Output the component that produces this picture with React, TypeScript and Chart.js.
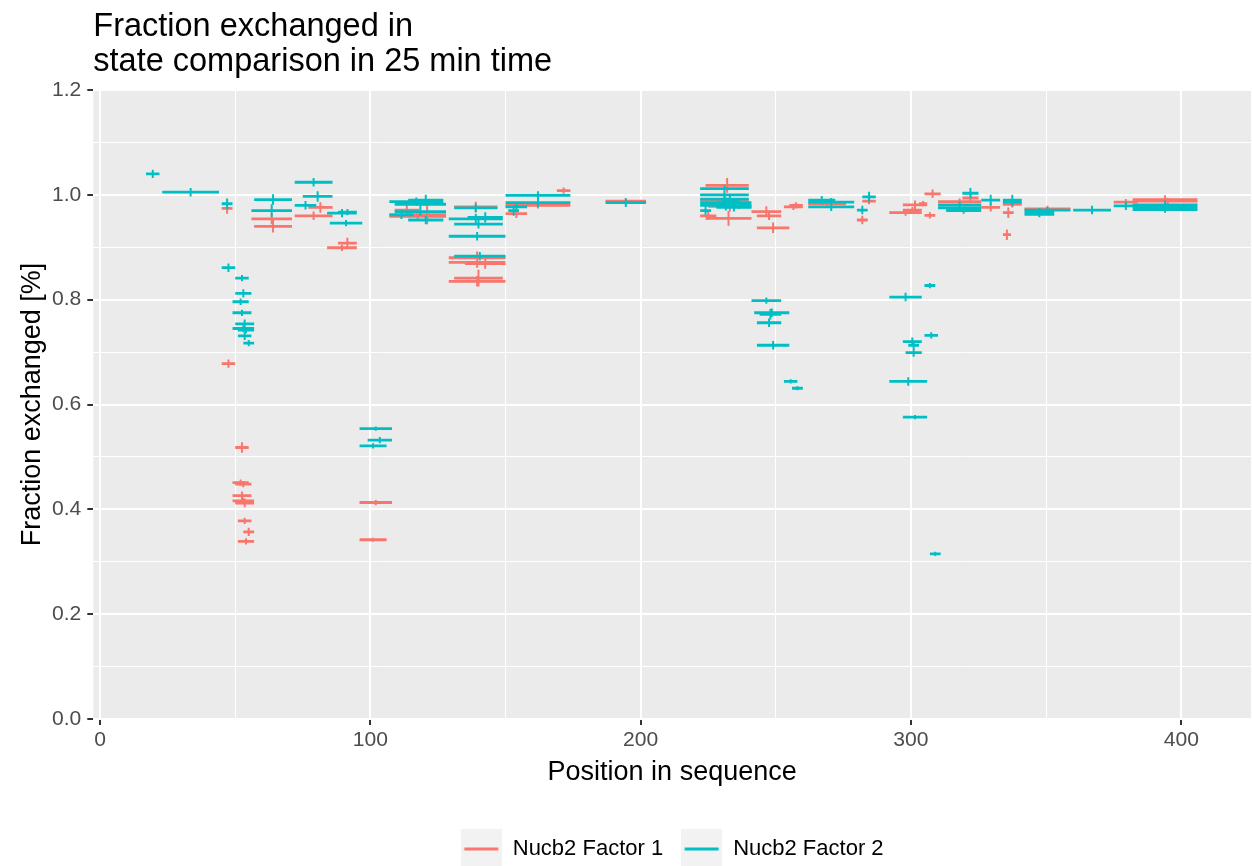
import React, { useEffect, useRef } from "react";
import { Chart, registerables } from "chart.js";

Chart.register(...registerables);

const FONT = "'Liberation Sans', Arial, Helvetica, sans-serif";

const titleLines = ["Fraction exchanged in", "state comparison in 25 min time"];
const xTitle = "Position in sequence";
const yTitle = "Fraction exchanged [%]";
const seriesNames = ["Nucb2 Factor 1", "Nucb2 Factor 2"];
const seriesColors = ["#F8766D", "#00BFC4"];

// Nucb2 Factor 1 peptides
const f1Start = [45, 56, 57, 77, 72, 88, 84, 45, 50, 49, 50, 49, 49, 50, 51, 53, 51, 96, 96, 109, 107, 114, 131, 129, 129, 135, 131, 129, 169, 150, 150, 187, 224, 222, 225, 228, 222, 224, 241, 243, 243, 253, 255, 262, 282, 280, 292, 297, 297, 305, 305, 303, 310, 319, 326, 334, 334, 334, 342, 375, 382, 384];
const f1End = [49, 71, 71, 86, 86, 95, 95, 50, 55, 55, 56, 56, 57, 57, 56, 57, 57, 108, 106, 118, 128, 128, 147, 150, 150, 150, 149, 150, 174, 174, 158, 202, 240, 240, 241, 234, 228, 241, 252, 252, 255, 260, 260, 276, 287, 284, 304, 304, 306, 311, 309, 306, 326, 325, 333, 341, 338, 337, 359, 384, 406, 406];
const f1Value = [0.974, 0.954, 0.94, 0.976, 0.96, 0.908, 0.899, 0.678, 0.518, 0.451, 0.448, 0.426, 0.416, 0.412, 0.378, 0.357, 0.339, 0.413, 0.342, 0.971, 0.959, 0.962, 0.977, 0.88, 0.871, 0.869, 0.841, 0.835, 1.008, 0.98, 0.964, 0.988, 1.018, 0.99, 0.978, 0.985, 0.96, 0.955, 0.968, 0.96, 0.937, 0.977, 0.98, 0.983, 0.988, 0.952, 0.966, 0.971, 0.981, 1.002, 0.961, 0.983, 0.987, 0.994, 0.976, 0.982, 0.966, 0.924, 0.973, 0.986, 0.991, 0.988];
const f1Err = [0.01, 0.01, 0.012, 0.01, 0.008, 0.01, 0.006, 0.008, 0.01, 0.006, 0.006, 0.008, 0.006, 0.008, 0.006, 0.008, 0.006, 0.005, 0.004, 0.01, 0.008, 0.018, 0.01, 0.012, 0.01, 0.01, 0.016, 0.01, 0.006, 0.006, 0.008, 0.006, 0.014, 0.01, 0.01, 0.01, 0.008, 0.014, 0.01, 0.008, 0.01, 0.006, 0.006, 0.008, 0.006, 0.008, 0.006, 0.006, 0.008, 0.008, 0.006, 0.005, 0.006, 0.006, 0.008, 0.006, 0.01, 0.01, 0.006, 0.006, 0.008, 0.006];

// Nucb2 Factor 2 peptides
const f2Start = [17, 23, 45, 57, 56, 72, 75, 72, 84, 88, 85, 45, 50, 50, 49, 49, 50, 49, 51, 51, 53, 96, 99, 96, 107, 114, 109, 109, 107, 114, 131, 129, 131, 129, 131, 136, 150, 150, 150, 151, 187, 222, 222, 222, 222, 222, 228, 222, 230, 233, 241, 242, 244, 243, 243, 253, 256, 262, 262, 262, 282, 280, 292, 305, 305, 297, 299, 298, 292, 297, 307, 310, 310, 313, 319, 326, 334, 334, 342, 342, 342, 360, 375, 382, 382, 382];
const f2End = [22, 44, 49, 71, 71, 86, 86, 80, 95, 95, 97, 50, 55, 56, 55, 56, 57, 57, 57, 56, 57, 108, 108, 106, 127, 127, 128, 128, 116, 127, 147, 149, 149, 150, 150, 149, 174, 174, 158, 155, 202, 240, 240, 240, 241, 241, 241, 226, 236, 240, 252, 255, 252, 252, 255, 258, 260, 279, 279, 272, 287, 284, 304, 309, 310, 304, 303, 304, 306, 306, 311, 326, 326, 326, 325, 333, 341, 341, 359, 353, 353, 374, 384, 406, 406, 406];
const f2Value = [1.04, 1.005, 0.983, 0.991, 0.97, 1.024, 0.997, 0.98, 0.965, 0.967, 0.946, 0.861, 0.841, 0.812, 0.796, 0.775, 0.754, 0.745, 0.742, 0.731, 0.717, 0.554, 0.532, 0.521, 0.987, 0.99, 0.982, 0.968, 0.962, 0.952, 0.975, 0.954, 0.944, 0.921, 0.883, 0.957, 0.999, 0.985, 0.977, 0.97, 0.985, 1.012, 1.0, 0.992, 0.985, 0.98, 0.976, 0.97, 0.988, 0.983, 0.798, 0.775, 0.772, 0.756, 0.713, 0.644, 0.631, 0.986, 0.977, 0.99, 0.996, 0.971, 0.805, 0.827, 0.732, 0.72, 0.713, 0.699, 0.644, 0.576, 0.315, 0.981, 0.975, 0.97, 1.003, 0.99, 0.99, 0.986, 0.971, 0.967, 0.963, 0.971, 0.979, 0.981, 0.977, 0.972];
const f2Err = [0.008, 0.008, 0.01, 0.01, 0.012, 0.008, 0.01, 0.008, 0.008, 0.006, 0.006, 0.008, 0.006, 0.008, 0.006, 0.006, 0.008, 0.006, 0.006, 0.008, 0.006, 0.004, 0.006, 0.005, 0.008, 0.01, 0.008, 0.008, 0.008, 0.008, 0.008, 0.01, 0.008, 0.008, 0.008, 0.01, 0.008, 0.008, 0.008, 0.01, 0.008, 0.006, 0.008, 0.008, 0.01, 0.01, 0.008, 0.008, 0.012, 0.01, 0.006, 0.008, 0.01, 0.008, 0.008, 0.004, 0.004, 0.008, 0.008, 0.008, 0.01, 0.008, 0.008, 0.005, 0.006, 0.008, 0.006, 0.008, 0.008, 0.004, 0.004, 0.006, 0.006, 0.006, 0.01, 0.01, 0.01, 0.008, 0.006, 0.008, 0.006, 0.008, 0.008, 0.008, 0.01, 0.006];

const xMin = -2.5;
const xMax = 425.8;
const xStep = 50;
const xLabelEvery = 100;
const yMin = 0;
const yMax = 1.2;
const yStep = 0.1;

type Pt = { x: number; y: number | null };

function segments(starts: number[], ends: number[], values: number[]): Pt[] {
  const out: Pt[] = [];
  for (let i = 0; i < starts.length; i++) {
    out.push({ x: starts[i], y: values[i] });
    out.push({ x: ends[i], y: values[i] });
    out.push({ x: ends[i], y: null });
  }
  return out;
}

function errorBars(starts: number[], ends: number[], values: number[], errs: number[]): Pt[] {
  const out: Pt[] = [];
  for (let i = 0; i < starts.length; i++) {
    const mid = (starts[i] + ends[i]) / 2;
    out.push({ x: mid, y: values[i] - errs[i] });
    out.push({ x: mid, y: values[i] + errs[i] });
    out.push({ x: mid, y: null });
  }
  return out;
}

// legend key: grey square with a short coloured line, as ggplot draws it
function legendKey(color: string): HTMLCanvasElement {
  const c = document.createElement("canvas");
  c.width = 41;
  c.height = 41;
  const g = c.getContext("2d");
  if (g) {
    g.fillStyle = "#F2F2F2";
    g.fillRect(0, 0, 41, 41);
    g.strokeStyle = color;
    g.lineWidth = 3;
    g.beginPath();
    g.moveTo(3.5, 20.5);
    g.lineTo(37.5, 20.5);
    g.stroke();
  }
  return c;
}

const panelPlugin = {
  id: "panelBg",
  beforeDraw(chart: any) {
    const { ctx, chartArea } = chart;
    ctx.save();
    ctx.fillStyle = "#EBEBEB";
    ctx.fillRect(chartArea.left, chartArea.top, chartArea.right - chartArea.left, chartArea.bottom - chartArea.top);
    ctx.restore();
  },
};

export default function App() {
  const ref = useRef<HTMLCanvasElement | null>(null);

  useEffect(() => {
    document.body.style.margin = "0";
    const canvas = ref.current;
    if (!canvas) return;
    const common = {
      pointRadius: 0,
      pointHoverRadius: 0,
      spanGaps: false,
      tension: 0,
      fill: false,
      borderCapStyle: "butt" as const,
    };
    const chart = new Chart(canvas, {
      type: "line",
      data: {
        datasets: [
          { ...common, label: seriesNames[0], data: segments(f1Start, f1End, f1Value), borderColor: seriesColors[0], backgroundColor: seriesColors[0], borderWidth: 2.8, pointStyle: legendKey(seriesColors[0]), order: 4 },
          { ...common, label: seriesNames[1], data: segments(f2Start, f2End, f2Value), borderColor: seriesColors[1], backgroundColor: seriesColors[1], borderWidth: 2.8, pointStyle: legendKey(seriesColors[1]), order: 2 },
          { ...common, label: "err1", data: errorBars(f1Start, f1End, f1Value, f1Err), borderColor: seriesColors[0], borderWidth: 2, order: 3 },
          { ...common, label: "err2", data: errorBars(f2Start, f2End, f2Value, f2Err), borderColor: seriesColors[1], borderWidth: 2, order: 1 },
        ] as any,
      },
      options: {
        responsive: false,
        animation: false,
        devicePixelRatio: 1,
        layout: { padding: { left: 0, right: 1, top: 0, bottom: 0 } },
        plugins: {
          tooltip: { enabled: false },
          title: {
            display: true,
            text: titleLines,
            align: "start",
            fullSize: false,
            color: "#000000",
            font: { family: FONT, size: 32.5, weight: "normal", lineHeight: 1.08 },
            padding: { top: 9, bottom: 10.8 },
          },
          legend: {
            display: true,
            position: "bottom",
            align: "center",
            fullSize: false,
            labels: {
              usePointStyle: true,
              pointStyleWidth: 41,
              color: "#000000",
              font: { family: FONT, size: 22 },
              padding: 18,
              filter: (item: any) => item.datasetIndex < 2,
              sort: (a: any, b: any) => a.datasetIndex - b.datasetIndex,
            },
          },
        },
        scales: {
          x: {
            type: "linear",
            min: xMin,
            max: xMax,
            afterFit: (scale: any) => {
              scale.height = 101;
            },
            border: { display: false },
            grid: {
              color: "#FFFFFF",
              lineWidth: (c: any) => (c.tick && Math.round(c.tick.value) % xLabelEvery === 0 ? 2 : 1),
              tickColor: (c: any) => (c.tick && Math.round(c.tick.value) % xLabelEvery === 0 ? "#333333" : "rgba(0,0,0,0)"),
              tickLength: 6,
              tickWidth: 2,
              drawTicks: true,
            },
            ticks: {
              stepSize: xStep,
              includeBounds: false,
              autoSkip: false,
              maxRotation: 0,
              padding: 3,
              color: "#4D4D4D",
              font: { family: FONT, size: 21.1 },
              callback: (v: any) => (Math.round(Number(v)) % xLabelEvery === 0 ? String(Math.round(Number(v))) : ""),
            },
            title: {
              display: true,
              text: xTitle,
              color: "#000000",
              font: { family: FONT, size: 27 },
              padding: { top: 0, bottom: 31 },
            },
          },
          y: {
            type: "linear",
            min: yMin,
            max: yMax,
            afterFit: (scale: any) => {
              scale.width = 93.3;
            },
            border: { display: false },
            grid: {
              color: "#FFFFFF",
              lineWidth: (c: any) => (c.tick && Math.round(c.tick.value * 10) % 2 === 0 ? 2 : 1),
              tickColor: (c: any) => (c.tick && Math.round(c.tick.value * 10) % 2 === 0 ? "#333333" : "rgba(0,0,0,0)"),
              tickLength: 6,
              tickWidth: 2,
              drawTicks: true,
            },
            ticks: {
              stepSize: yStep,
              autoSkip: false,
              padding: 6,
              color: "#4D4D4D",
              font: { family: FONT, size: 21.1 },
              callback: (v: any) => (Math.round(Number(v) * 10) % 2 === 0 ? Number(v).toFixed(1) : ""),
            },
            title: {
              display: true,
              text: yTitle,
              color: "#000000",
              font: { family: FONT, size: 27 },
              padding: { top: 16, bottom: 0 },
            },
          },
        },
      } as any,
      plugins: [panelPlugin],
    });
    return () => chart.destroy();
  }, []);

  return (
    <div style={{ position: "fixed", left: 0, top: 0, width: 1252, height: 866, overflow: "hidden", background: "#FFFFFF" }}>
      <canvas ref={ref} width={1252} height={870} style={{ display: "block", width: 1252, height: 870 }} />
    </div>
  );
}
